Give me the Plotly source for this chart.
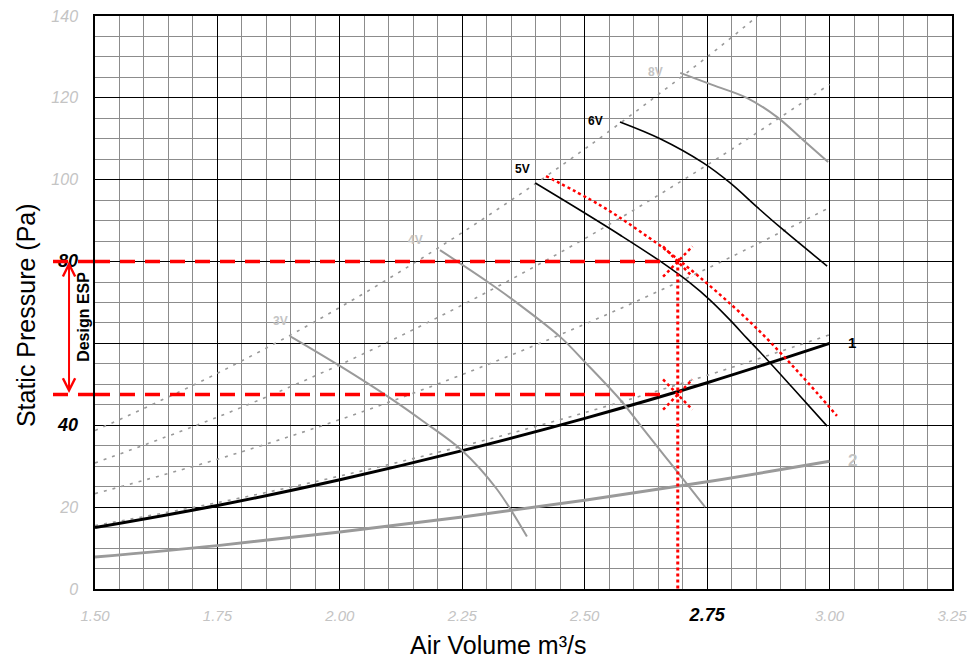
import plotly.graph_objects as go

# ---------------- data ----------------
Q_sys = [1.5, 1.75, 2.0, 2.25, 2.5, 2.75, 3.0]
sys_curve_1 = [15.0, 20.4, 26.7, 33.8, 41.7, 50.4, 60.0]
sys_curve_2 = [7.8, 10.6, 13.9, 17.6, 21.7, 26.2, 31.2]

Q_guideA = [1.5, 1.75, 2.0, 2.25, 2.5, 2.75, 2.853]
guideA = [38.7, 52.7, 68.8, 87.1, 107.5, 130.0, 140.0]
guideB = [30.8, 42.0, 54.8, 69.4, 85.6, 103.6, 123.3]
guideC = [23.3, 31.7, 41.4, 52.4, 64.7, 78.3, 93.2]
guideD = [15.5, 21.1, 27.6, 34.9, 43.1, 52.2, 62.1]

Q_3V = [1.898, 2.0, 2.102, 2.17, 2.25, 2.32, 2.382]
P_3V = [61.8, 54.5, 46.7, 41.0, 33.8, 24.5, 12.8]
Q_4V = [2.2045, 2.30, 2.354, 2.45, 2.5, 2.572, 2.617, 2.68, 2.746]
P_4V = [82.8, 75.2, 70.6, 61.6, 55.5, 46.3, 39.5, 30.0, 20.0]
Q_5V = [2.399, 2.49, 2.572, 2.654, 2.715, 2.756, 2.797, 2.831, 2.858, 2.925, 2.995]
P_5V = [99.2, 92.6, 86.5, 80.1, 74.8, 70.6, 65.7, 61.3, 57.9, 49.1, 39.8]
Q_6V = [2.572, 2.654, 2.742, 2.797, 2.852, 2.899, 2.995]
P_6V = [114.1, 110.0, 104.1, 99.2, 93.3, 88.4, 78.9]
Q_8V = [2.695, 2.762, 2.831, 2.893, 2.946, 2.997]
P_8V = [126.1, 123.1, 120.0, 115.3, 109.7, 104.3]

Q_design_fan = [2.421, 2.531, 2.609, 2.695, 2.838, 2.940, 3.015]
P_design_fan = [100.9, 93.8, 87.7, 80.1, 65.2, 52.5, 42.3]

design_Q = 2.69
design_ESP_top = 80
design_ESP_bottom = 47.5
dash_end_Q = 2.67

x_ticks = [1.5, 1.75, 2.0, 2.25, 2.5, 2.75, 3.0, 3.25]
x_ticktext = ["1.50", "1.75", "2.00", "2.25", "2.50",
              "<span style='color:black;font-size:18px'><b>2.75</b></span>", "3.00", "3.25"]
y_ticks = [0, 20, 40, 60, 80, 100, 120, 140]
y_ticktext = ["0", "20", "<span style='color:black;font-size:18px'><b>40</b></span>", "",
              "<span style='color:black;font-size:18px'><b>80</b></span>", "100", "120", "140"]

# --------------- figure ---------------
FONT = "Arial, Liberation Sans, sans-serif"
GRAY_LINE = "#9a9a9a"
LABEL_GRAY = "#c4c4c4"
RED = "#ff0000"

fig = go.Figure()

guide_style = dict(color=GRAY_LINE, width=1.6, dash="3px,6px", shape="spline")
fig.add_trace(go.Scatter(x=Q_guideA, y=guideA, mode="lines", line=guide_style))
for g in (guideB, guideC, guideD):
    fig.add_trace(go.Scatter(x=Q_sys, y=g, mode="lines", line=guide_style))

fig.add_trace(go.Scatter(x=Q_sys, y=sys_curve_2, mode="lines",
                         line=dict(color=GRAY_LINE, width=3, shape="spline")))
fig.add_trace(go.Scatter(x=Q_sys, y=sys_curve_1, mode="lines",
                         line=dict(color="black", width=3, shape="spline")))

fig.add_trace(go.Scatter(x=Q_3V, y=P_3V, mode="lines", line=dict(color=GRAY_LINE, width=2, shape="spline")))
fig.add_trace(go.Scatter(x=Q_4V, y=P_4V, mode="lines", line=dict(color=GRAY_LINE, width=2, shape="spline")))
fig.add_trace(go.Scatter(x=Q_8V, y=P_8V, mode="lines", line=dict(color=GRAY_LINE, width=2, shape="spline")))
fig.add_trace(go.Scatter(x=Q_5V, y=P_5V, mode="lines", line=dict(color="black", width=1.6, shape="spline")))
fig.add_trace(go.Scatter(x=Q_6V, y=P_6V, mode="lines", line=dict(color="black", width=1.6, shape="spline")))

fig.add_trace(go.Scatter(x=Q_design_fan, y=P_design_fan, mode="lines",
                         line=dict(color=RED, width=2.5, dash="dot", shape="spline")))
fig.add_trace(go.Scatter(x=[design_Q, design_Q], y=[design_ESP_top, 0], mode="lines",
                         line=dict(color=RED, width=3, dash="dot")))

shapes = []
for yv in (design_ESP_top, design_ESP_bottom):
    shapes.append(dict(type="line", xref="x", yref="y", x0=1.5, x1=dash_end_Q, y0=yv, y1=yv,
                       line=dict(color=RED, width=3.5, dash="15px,10px"), layer="above"))
    shapes.append(dict(type="line", xref="paper", yref="y", x0=-0.049, x1=0, y0=yv, y1=yv,
                       line=dict(color=RED, width=3.5, dash="15px,10px"), layer="above"))
    dq, dp = 0.03, 3.7
    shapes.append(dict(type="line", xref="x", yref="y", x0=design_Q - dq, x1=design_Q + dq,
                       y0=yv - dp, y1=yv + dp, line=dict(color=RED, width=2.5, dash="dot")))
    shapes.append(dict(type="line", xref="x", yref="y", x0=design_Q - dq, x1=design_Q + dq,
                       y0=yv + dp, y1=yv - dp, line=dict(color=RED, width=2.5, dash="dot")))

C = dict(xanchor="center", yanchor="middle", showarrow=False)
annotations = [
    dict(x=-0.0303, xref="paper", y=design_ESP_top, yref="y",
         ax=0, axref="pixel", ay=design_ESP_bottom, ayref="y", text="",
         showarrow=True, arrowhead=5, startarrowhead=5, arrowside="end+start",
         arrowsize=1.2, startarrowsize=1.2, arrowwidth=2, arrowcolor=RED),
    dict(x=-0.0128, xref="paper", y=66.5, yref="y", text="<b>Design ESP</b>", textangle=-90,
         font=dict(family=FONT, size=16, color="black"), **C),
    dict(x=2.6436, y=126.3, text="<b>8V</b>", font=dict(family=FONT, size=12, color=LABEL_GRAY), **C),
    dict(x=2.521, y=114.3, text="<b>6V</b>", font=dict(family=FONT, size=12, color="black"), **C),
    dict(x=2.372, y=102.6, text="<b>5V</b>", font=dict(family=FONT, size=12, color="black"), **C),
    dict(x=2.1535, y=85.3, text="<b>4V</b>", font=dict(family=FONT, size=12, color=LABEL_GRAY), **C),
    dict(x=1.878, y=65.6, text="<b>3V</b>", font=dict(family=FONT, size=12, color=LABEL_GRAY), **C),
    dict(x=3.046, y=60.2, text="<b>1</b>", font=dict(family=FONT, size=15, color="black"), **C),
    dict(x=3.046, y=31.3, text="<b>2</b>", font=dict(family=FONT, size=17, color=LABEL_GRAY), **C),
    dict(x=-0.0805, xref="paper", y=0.478, yref="paper", text="Static Pressure (Pa)", textangle=-90,
         font=dict(family=FONT, size=25, color="black"), **C),
    dict(x=0.470, xref="paper", y=-0.1257, yref="paper", text="Air Volume m³/s",
         xanchor="center", yanchor="bottom", showarrow=False,
         font=dict(family=FONT, size=25, color="black")),
]

fig.update_layout(
    width=972, height=661,
    margin=dict(l=95, r=20, t=16, b=72),
    paper_bgcolor="white", plot_bgcolor="white",
    showlegend=False,
    shapes=shapes, annotations=annotations,
    font=dict(family=FONT),
)
fig.update_xaxes(
    range=[1.5, 3.25], tickvals=x_ticks, ticktext=x_ticktext, automargin=False,
    tickfont=dict(family=FONT, size=15, color=LABEL_GRAY, style="italic"),
    ticks="outside", ticklen=12, tickcolor="rgba(0,0,0,0)",
    showgrid=True, gridcolor="black", gridwidth=1,
    minor=dict(dtick=0.05, tick0=1.5, showgrid=True, gridcolor="#8c8c8c", gridwidth=1),
    showline=True, linecolor="black", linewidth=1.5, mirror=True, zeroline=False,
)
fig.update_yaxes(
    range=[0, 140], tickvals=y_ticks, ticktext=y_ticktext, automargin=False,
    tickfont=dict(family=FONT, size=16, color=LABEL_GRAY, style="italic"),
    ticks="outside", ticklen=12, tickcolor="rgba(0,0,0,0)",
    showgrid=True, gridcolor="black", gridwidth=1,
    minor=dict(dtick=5, tick0=0, showgrid=True, gridcolor="#8c8c8c", gridwidth=1),
    showline=True, linecolor="black", linewidth=1.5, mirror=True, zeroline=False,
)

fig.write_html("out.html")
